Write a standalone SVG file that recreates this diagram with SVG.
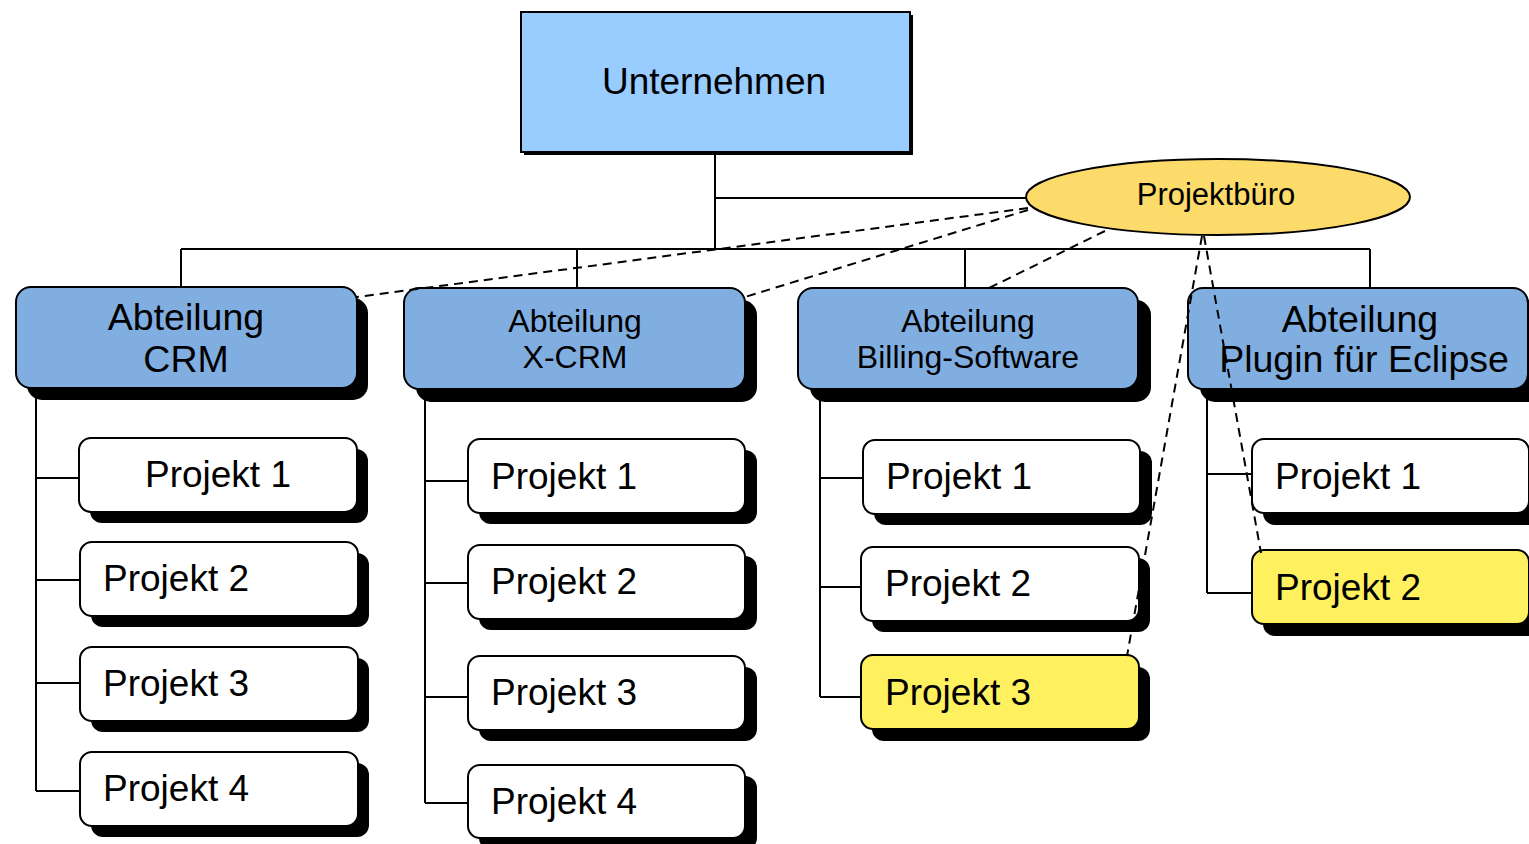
<svg xmlns="http://www.w3.org/2000/svg" width="1529" height="844" viewBox="0 0 1529 844">
<style>
text{font-family:"Liberation Sans",Arial,sans-serif;fill:#000}
.ln{stroke:#000;stroke-width:2;fill:none}
.dash{stroke:#000;stroke-width:2;fill:none;stroke-dasharray:9 6}
.sh{fill:#000}
.dept{fill:#80aee0;stroke:#000;stroke-width:2}
.proj{fill:#fff;stroke:#000;stroke-width:2}
.hl{fill:#fff060;stroke:#000;stroke-width:2}
.pt{font-size:37px}
.d37{font-size:37.5px;text-anchor:middle}
.d32{font-size:32px;text-anchor:middle}
</style>
<g id="connectors">
<path class="ln" d="M715 153V249M715 198H1027M181 249H1370M181 249V287M577 249V288M965 249V288M1370 249V288"/>
<path class="ln" d="M36 388V791M36 478H78M36 580H79M36 683H79M36 791H79"/>
<path class="ln" d="M425 390V803M425 481H468M425 583H468M425 697H468M425 803H468"/>
<path class="ln" d="M820 390V697M820 478H863M820 587H861M820 697H861"/>
<path class="ln" d="M1207 390V593M1207 474H1251M1207 593H1251"/>
</g>
<g id="unternehmen">
<rect x="524" y="15" width="389" height="140" fill="#000"/>
<rect x="521" y="12" width="389" height="140" fill="#99ccff" stroke="#000" stroke-width="2"/>
<text x="714" y="94" font-size="37" text-anchor="middle">Unternehmen</text>
</g>
<g id="abt-crm">
<rect class="sh" x="27" y="298" width="341" height="102" rx="15"/>
<rect class="dept" x="16" y="287" width="341" height="101" rx="15"/>
<text class="d37" x="186" y="330">Abteilung</text>
<text class="d37" x="186" y="372">CRM</text>
</g>
<g id="abt-xcrm">
<rect class="sh" x="416" y="300" width="341" height="102" rx="15"/>
<rect class="dept" x="404" y="288" width="341" height="101" rx="15"/>
<text class="d32" x="575" y="332">Abteilung</text>
<text class="d32" x="575" y="368">X-CRM</text>
</g>
<g id="abt-billing">
<rect class="sh" x="810" y="300" width="341" height="102" rx="15"/>
<rect class="dept" x="798" y="288" width="340" height="101" rx="15"/>
<text class="d32" x="968" y="332">Abteilung</text>
<text class="d32" x="968" y="368">Billing-Software</text>
</g>
<g id="abt-plugin">
<rect class="sh" x="1200" y="300" width="345" height="102" rx="15"/>
<rect class="dept" x="1188" y="288" width="340" height="101" rx="15"/>
<text class="d37" x="1360" y="332">Abteilung</text>
<text class="d37" x="1364" y="372">Plugin für Eclipse</text>
</g>
<g id="crm-p1"><rect class="sh" x="90" y="449" width="278" height="74" rx="12"/><rect class="proj" x="79" y="438" width="278" height="74" rx="12"/><text class="pt" x="218" y="487" text-anchor="middle">Projekt 1</text></g>
<g id="crm-p2"><rect class="sh" x="91" y="553" width="278" height="74" rx="12"/><rect class="proj" x="80" y="542" width="278" height="74" rx="12"/><text class="pt" x="103" y="591">Projekt 2</text></g>
<g id="crm-p3"><rect class="sh" x="91" y="658" width="278" height="74" rx="12"/><rect class="proj" x="80" y="647" width="278" height="74" rx="12"/><text class="pt" x="103" y="696">Projekt 3</text></g>
<g id="crm-p4"><rect class="sh" x="91" y="763" width="278" height="74" rx="12"/><rect class="proj" x="80" y="752" width="278" height="74" rx="12"/><text class="pt" x="103" y="801">Projekt 4</text></g>
<g id="xcrm-p1"><rect class="sh" x="479" y="450" width="278" height="74" rx="12"/><rect class="proj" x="468" y="439" width="277" height="74" rx="12"/><text class="pt" x="491" y="489">Projekt 1</text></g>
<g id="xcrm-p2"><rect class="sh" x="479" y="556" width="278" height="74" rx="12"/><rect class="proj" x="468" y="545" width="277" height="74" rx="12"/><text class="pt" x="491" y="594">Projekt 2</text></g>
<g id="xcrm-p3"><rect class="sh" x="479" y="667" width="278" height="74" rx="12"/><rect class="proj" x="468" y="656" width="277" height="74" rx="12"/><text class="pt" x="491" y="705">Projekt 3</text></g>
<g id="xcrm-p4"><rect class="sh" x="479" y="776" width="278" height="74" rx="12"/><rect class="proj" x="468" y="765" width="277" height="73" rx="12"/><text class="pt" x="491" y="814">Projekt 4</text></g>
<g id="bill-p1"><rect class="sh" x="874" y="451" width="278" height="74" rx="12"/><rect class="proj" x="863" y="440" width="277" height="74" rx="12"/><text class="pt" x="886" y="489">Projekt 1</text></g>
<g id="bill-p2"><rect class="sh" x="872" y="558" width="278" height="74" rx="12"/><rect class="proj" x="861" y="547" width="278" height="74" rx="12"/><text class="pt" x="885" y="596">Projekt 2</text></g>
<g id="bill-p3"><rect class="sh" x="872" y="667" width="278" height="74" rx="12"/><rect class="hl" x="861" y="655" width="278" height="74" rx="12"/><text class="pt" x="885" y="705">Projekt 3</text></g>
<g id="plug-p1"><rect class="sh" x="1263" y="451" width="278" height="74" rx="12"/><rect class="proj" x="1252" y="439" width="277" height="74" rx="12"/><text class="pt" x="1275" y="489">Projekt 1</text></g>
<g id="plug-p2"><rect class="sh" x="1263" y="562" width="278" height="74" rx="12"/><rect class="hl" x="1252" y="550" width="277" height="74" rx="12"/><text class="pt" x="1275" y="600">Projekt 2</text></g>
<g id="projektbuero">
<ellipse cx="1218" cy="197" rx="192" ry="38" fill="#fcdb6a" stroke="#000" stroke-width="2"/>
<text x="1216" y="205" font-size="31" text-anchor="middle">Projektbüro</text>
</g>
<g id="dashed-connectors">
<path class="dash" d="M1028 208L357 297"/>
<path class="dash" d="M1028 210L745 297"/>
<path class="dash" d="M1105 231L985 290"/>
<path class="dash" d="M1202 236L1127 656"/>
<path class="dash" d="M1204 236L1261 553"/>
</g>
</svg>
